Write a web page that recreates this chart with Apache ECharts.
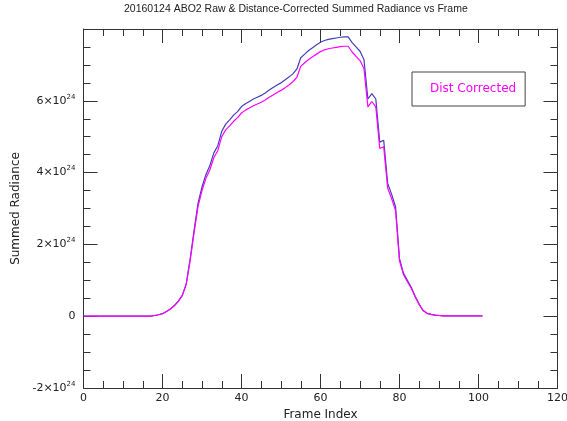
<!DOCTYPE html>
<html>
<head>
<meta charset="utf-8">
<script src="https://cdn.jsdelivr.net/npm/echarts@6/dist/echarts.min.js"></script>
<style>html,body{margin:0;padding:0;background:#fff}#c{width:567px;height:421px}</style>
</head>
<body>
<div id="c"></div>
<script>
// Values in units of 1e24
const frames = Array.from({length: 102}, (_, i) => i);
const rawRadiance = [
  0,0,0,0,0,0,0,0,0,0,
  0,0,0,0,0,0,0,0,0.02,0.04,
  0.07,0.13,0.2,0.3,0.42,0.58,0.9,1.6,2.4,3.15,
  3.6,3.95,4.2,4.55,4.75,5.15,5.35,5.47,5.6,5.7,
  5.84,5.92,5.98,6.05,6.1,6.15,6.22,6.3,6.37,6.44,
  6.5,6.58,6.66,6.75,6.88,7.2,7.3,7.4,7.48,7.56,
  7.63,7.68,7.71,7.73,7.75,7.77,7.78,7.78,7.62,7.5,
  7.38,7.15,6.05,6.2,6.05,4.85,4.9,3.7,3.4,3.05,
  1.6,1.2,1.0,0.8,0.55,0.33,0.16,0.08,0.05,0.03,
  0.02,0.01,0.01,0.01,0.01,0.01,0.01,0.01,0.01,0.01,
  0.01,0.01
];
const distCorrected = [
  0,0,0,0,0,0,0,0,0,0,
  0,0,0,0,0,0,0,0,0.02,0.04,
  0.07,0.13,0.2,0.29,0.41,0.57,0.88,1.55,2.33,3.06,
  3.5,3.84,4.08,4.42,4.61,5.0,5.19,5.3,5.43,5.53,
  5.66,5.74,5.8,5.86,5.91,5.96,6.02,6.1,6.16,6.23,
  6.29,6.36,6.44,6.53,6.65,6.96,7.06,7.15,7.23,7.3,
  7.37,7.42,7.45,7.47,7.49,7.51,7.52,7.52,7.36,7.24,
  7.12,6.9,5.83,5.98,5.83,4.67,4.72,3.57,3.28,2.94,
  1.54,1.16,0.96,0.77,0.53,0.32,0.15,0.08,0.05,0.03,
  0.02,0.01,0.01,0.01,0.01,0.01,0.01,0.01,0.01,0.01,
  0.01,0.01
];
const xTicks = {min: 0, max: 120, interval: 20};
const yTicks = {min: -2, max: 8, interval: 2};

const axisColor = '#333';
const tickFont = 'DejaVu Sans';

function yFmt(v) {
  if (v === 0) return '{b|0}';
  return '{b|' + v + '×10}{s|24}';
}

const chart = echarts.init(document.getElementById('c'), null, {renderer: 'canvas'});
function common() {
  return {
    axisLine: {show: true, onZero: false, lineStyle: {color: axisColor, width: 1}},
    axisTick: {show: true, inside: true, length: 14, lineStyle: {color: axisColor}},
    minorTick: {show: true, splitNumber: 4, length: 7, lineStyle: {color: axisColor}},
    splitLine: {show: false}
  };
}
chart.setOption({
  animation: false,
  backgroundColor: '#fff',
  title: {
    text: '20160124 ABO2 Raw & Distance-Corrected Summed Radiance vs Frame',
    left: 124, top: 4, padding: 0,
    textStyle: {fontFamily: 'Liberation Sans', fontSize: 10.5, fontWeight: 'normal', color: '#222'}
  },
  legend: {
    data: ['Dist Corrected'],
    left: 412, top: 72,
    icon: 'none', itemWidth: 0, itemHeight: 0, itemGap: 0,
    padding: [11, 9, 11, 13],
    borderColor: '#444', borderWidth: 1,
    textStyle: {color: '#ff00ff', fontFamily: tickFont, fontSize: 12}
  },
  grid: {left: 83.5, right: 9.5, top: 29, bottom: 33, containLabel: false, outerBoundsMode: 'none'},
  xAxis: [
    Object.assign(common(), {
      type: 'value', position: 'bottom', min: xTicks.min, max: xTicks.max, interval: xTicks.interval,
      name: 'Frame Index', nameLocation: 'middle', nameGap: 20,
      nameTextStyle: {fontFamily: tickFont, fontSize: 12, color: '#222'},
      axisLabel: {fontFamily: tickFont, fontSize: 11, color: '#222', margin: 5}
    }),
    Object.assign(common(), {
      type: 'value', position: 'top', min: xTicks.min, max: xTicks.max, interval: xTicks.interval,
      axisLabel: {show: false}
    })
  ],
  yAxis: [
    Object.assign(common(), {
      type: 'value', position: 'left', min: yTicks.min, max: yTicks.max, interval: yTicks.interval,
      name: 'Summed Radiance', nameLocation: 'middle', nameGap: 58,
      nameTextStyle: {fontFamily: tickFont, fontSize: 12, color: '#222'},
      axisLabel: {
        formatter: yFmt, margin: 8, showMaxLabel: false,
        rich: {
          b: {fontFamily: tickFont, fontSize: 11, color: '#222'},
          s: {fontFamily: tickFont, fontSize: 7, color: '#222', padding: [0, 0, 8, 0]}
        }
      }
    }),
    Object.assign(common(), {
      type: 'value', position: 'right', min: yTicks.min, max: yTicks.max, interval: yTicks.interval,
      axisLabel: {show: false}
    })
  ],
  series: [
    {
      name: 'Raw', type: 'line', showSymbol: false, xAxisIndex: 0, yAxisIndex: 0,
      data: frames.map((f, i) => [f, rawRadiance[i]]),
      lineStyle: {color: '#3f3fb8', width: 1.2}, itemStyle: {color: '#3f3fb8'}
    },
    {
      name: 'Dist Corrected', type: 'line', showSymbol: false, xAxisIndex: 0, yAxisIndex: 0,
      data: frames.map((f, i) => [f, distCorrected[i]]),
      lineStyle: {color: '#ff00ff', width: 1.2}, itemStyle: {color: '#ff00ff'}
    }
  ]
});
</script>
</body>
</html>
